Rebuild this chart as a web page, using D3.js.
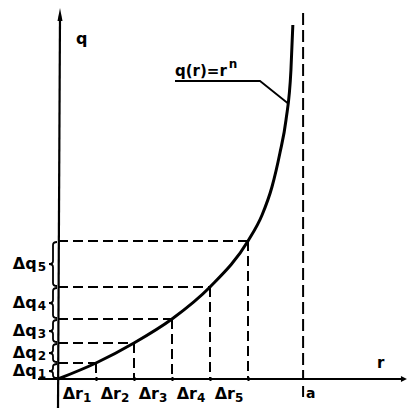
<!DOCTYPE html>
<html>
<head>
<meta charset="utf-8">
<script src="https://cdn.jsdelivr.net/npm/d3@7"></script>
<style>
  html, body { margin: 0; padding: 0; background: #fff; }
  text { font-family: "DejaVu Sans", sans-serif; font-weight: bold; fill: #000; }
</style>
</head>
<body>
<div id="chart"></div>
<script>
// step positions r_i and the curve value q(r_i) at each of them
const rSteps = [0, 1, 2, 3, 4, 5];
const qSteps = [0, 1.6, 3.6, 6.0, 9.2, 13.8];
// upper (steep) part of the curve, past the last step
const rUpper = [5.37, 5.63, 5.84, 6.0, 6.13, 6.18];
const qUpper = [16.4, 19.2, 22.6, 25.9, 30.9, 35.4];
const rA = 6.45;        // asymptote r = a
const rMax = 9.13;      // end of r axis
const qMax = 37.1;      // end of q axis
const dqLabels = ["1", "2", "3", "4", "5"];
const drLabels = ["1", "2", "3", "4", "5"];

const width = 407, height = 408;

const svg = d3.select("#chart").append("svg")
    .attr("width", width)
    .attr("height", height);

const x = d3.scaleLinear().domain([0, 5]).range([58, 248]);
const y = d3.scaleLinear().domain([0, 10]).range([379, 279]);

const curveData = rSteps.map((r, i) => ({r: r, q: qSteps[i]}))
    .concat(rUpper.map((r, i) => ({r: r, q: qUpper[i]})));

// dashed helper lines
const dash = "10,5";
const steps = rSteps.slice(1).map((r, i) => ({r: r, q: qSteps[i + 1]}));

svg.append("g").selectAll("line.h")
    .data(steps)
    .enter().append("line")
    .attr("x1", x(0)).attr("x2", d => x(d.r))
    .attr("y1", d => y(d.q)).attr("y2", d => y(d.q))
    .style("stroke", "#000").style("stroke-width", 2)
    .style("stroke-dasharray", dash);

svg.append("g").selectAll("line.v")
    .data(steps)
    .enter().append("line")
    .attr("x1", d => x(d.r)).attr("x2", d => x(d.r))
    .attr("y1", d => y(d.q)).attr("y2", y(0))
    .style("stroke", "#000").style("stroke-width", 2)
    .style("stroke-dasharray", dash);

// asymptote r = a
svg.append("line")
    .attr("x1", x(rA)).attr("x2", x(rA))
    .attr("y1", y(36.6)).attr("y2", y(0))
    .style("stroke", "#000").style("stroke-width", 2)
    .style("stroke-dasharray", "12,5");
svg.append("line")
    .attr("x1", x(rA)).attr("x2", x(rA))
    .attr("y1", y(0) + 7).attr("y2", y(0) + 18)
    .style("stroke", "#000").style("stroke-width", 2);
svg.append("text")
    .attr("x", x(rA) + 3).attr("y", y(0) + 19)
    .style("font-size", "14px")
    .text("a");

// axes
const xAxis = d3.axisBottom(x).tickValues(rSteps.slice(1)).tickSize(4).tickFormat("");
svg.append("g")
    .attr("transform", `translate(0,${y(0) - 2})`)
    .call(xAxis)
    .call(g => g.select(".domain").remove())
    .selectAll("line").style("stroke-width", 2);

svg.append("line")
    .attr("x1", 38).attr("x2", x(rMax))
    .attr("y1", y(0)).attr("y2", y(0))
    .style("stroke", "#000").style("stroke-width", 2);
svg.append("path")
    .attr("d", `M${x(rMax) + 2},${y(0)} l-6,-3 l0,6 Z`)
    .style("fill", "#000");

svg.append("line")
    .attr("x1", x(0)).attr("x2", x(0) + 2)
    .attr("y1", height).attr("y2", y(qMax) + 8)
    .style("stroke", "#000").style("stroke-width", 2.2);
svg.append("path")
    .attr("d", `M${x(0) + 2},${y(qMax)} l-2.5,13 l5,0 Z`)
    .style("fill", "#000");

// the curve
const line = d3.line()
    .x(d => x(d.r))
    .y(d => y(d.q))
    .curve(d3.curveMonotoneX);

svg.append("path")
    .datum(curveData)
    .attr("d", line)
    .style("fill", "none")
    .style("stroke", "#000")
    .style("stroke-width", 3);

// braces for the Δq intervals
function brace(xb, y1, y2, w) {
    const m = (y1 + y2) / 2;
    const c = Math.min(3, (y2 - y1) / 5);
    return `M${xb},${y1} q${-w / 2},0 ${-w / 2},${c} L${xb - w / 2},${m - c}` +
        ` q0,${c} ${-w / 2},${c} q${w / 2},0 ${w / 2},${c}` +
        ` L${xb - w / 2},${y2 - c} q0,${c} ${w / 2},${c}`;
}

const braces = qSteps.slice(1).map((q, i) => ({y1: y(q), y2: y(qSteps[i]), label: dqLabels[i]}));

svg.append("g").selectAll("path")
    .data(braces)
    .enter().append("path")
    .attr("d", d => brace(57, d.y1 + 1, d.y2 - 1, 8))
    .style("fill", "none")
    .style("stroke", "#000")
    .style("stroke-width", 1.8);

const dq = svg.append("g").selectAll("text")
    .data(braces)
    .enter().append("text")
    .attr("x", 46)
    .attr("y", d => (d.y1 + d.y2) / 2 + 5)
    .attr("text-anchor", "end")
    .style("font-size", "16px");
dq.append("tspan").text("Δq");
dq.append("tspan").style("font-size", "12px").attr("dx", 1).attr("dy", 2).text(d => d.label);

// Δr labels
const dr = svg.append("g").selectAll("text")
    .data(rSteps.slice(1).map((r, i) => ({mid: (r + rSteps[i]) / 2, label: drLabels[i]})))
    .enter().append("text")
    .attr("x", d => x(d.mid))
    .attr("y", y(0) + 20)
    .attr("text-anchor", "middle")
    .style("font-size", "16px");
dr.append("tspan").text("Δr");
dr.append("tspan").style("font-size", "12px").attr("dy", 3).text(d => d.label);

// axis names
svg.append("text")
    .attr("x", 76).attr("y", 44)
    .style("font-size", "16px")
    .text("q");
svg.append("text")
    .attr("x", 377).attr("y", 368)
    .style("font-size", "15px")
    .text("r");

// curve label with leader
const leadR = 6.04, leadQ = 27.6;
svg.append("path")
    .attr("d", `M175,81 L260,81 L${x(leadR)},${y(leadQ)}`)
    .style("fill", "none")
    .style("stroke", "#000")
    .style("stroke-width", 1.8);
const lab = svg.append("text")
    .attr("x", 175).attr("y", 76)
    .style("font-size", "15px");
lab.append("tspan").text("q(r)=r");
lab.append("tspan").attr("dy", -8).attr("dx", 2).style("font-size", "12px").text("n");
</script>
</body>
</html>
